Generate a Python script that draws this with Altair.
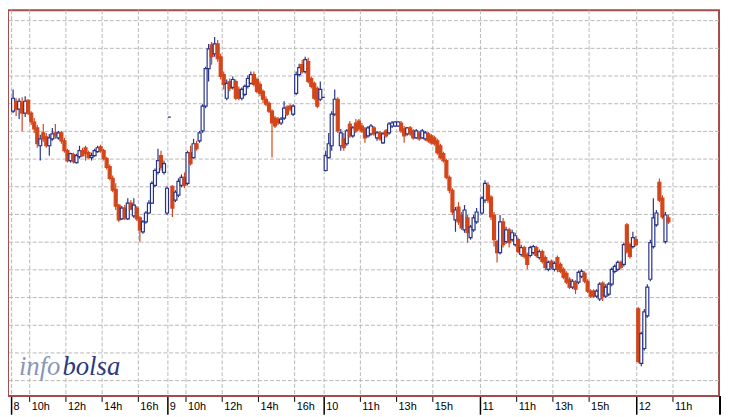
import altair as alt
import pandas as pd

# ---------------- data ----------------
# each candle: (open, high, low, close); 10-minute bars from 09:00
day_names = ["8", "9", "10", "11", "12"]

day8 = [
    (10.90, 11.12, 10.88, 11.03), (11.00, 11.03, 10.85, 10.92), (10.92, 11.03, 10.82, 11.00), (10.99, 11.04, 10.70, 10.88),
    (10.88, 11.05, 10.84, 11.00), (11.01, 11.02, 10.86, 10.88), (10.88, 10.90, 10.76, 10.79), (10.79, 10.83, 10.68, 10.72),
    (10.73, 10.76, 10.53, 10.57), (10.55, 10.66, 10.40, 10.62), (10.68, 10.77, 10.59, 10.62), (10.64, 10.68, 10.53, 10.55),
    (10.55, 10.67, 10.45, 10.63), (10.62, 10.73, 10.60, 10.67), (10.68, 10.77, 10.62, 10.65), (10.63, 10.70, 10.61, 10.68),
    (10.68, 10.70, 10.57, 10.60), (10.60, 10.63, 10.48, 10.50), (10.50, 10.52, 10.38, 10.40), (10.40, 10.48, 10.38, 10.47),
    (10.46, 10.48, 10.37, 10.39), (10.38, 10.47, 10.37, 10.45), (10.44, 10.55, 10.42, 10.50), (10.50, 10.53, 10.44, 10.45),
    (10.53, 10.55, 10.40, 10.47), (10.48, 10.50, 10.42, 10.43), (10.43, 10.48, 10.40, 10.45), (10.45, 10.52, 10.44, 10.50),
    (10.49, 10.55, 10.48, 10.53), (10.54, 10.56, 10.48, 10.50), (10.50, 10.52, 10.40, 10.42), (10.42, 10.44, 10.31, 10.33),
    (10.34, 10.36, 10.20, 10.22), (10.22, 10.25, 10.08, 10.10), (10.11, 10.17, 9.90, 9.94), (9.95, 9.96, 9.78, 9.80),
    (9.81, 9.94, 9.80, 9.92), (9.92, 9.95, 9.80, 9.82), (9.81, 10.02, 9.80, 9.97), (9.97, 10.00, 9.90, 9.91),
    (9.84, 10.02, 9.82, 9.95), (9.92, 9.94, 9.79, 9.81), (9.82, 9.84, 9.58, 9.70), (9.68, 9.80, 9.66, 9.78),
    (9.78, 9.89, 9.76, 9.87), (9.87, 10.00, 9.86, 9.97), (9.97, 10.19, 9.96, 10.17), (10.15, 10.32, 10.13, 10.30),
    (10.28, 10.52, 10.26, 10.40), (10.45, 10.50, 10.30, 10.33), (10.28, 10.40, 10.26, 10.37), (9.87, 10.14, 9.85, 10.12),
]

day9 = [
    (10.84, 10.84, 10.84, 10.84), (10.14, 10.15, 9.83, 9.92), (10.00, 10.10, 9.98, 10.08), (10.05, 10.22, 10.03, 10.19),
    (10.15, 10.26, 10.13, 10.23), (10.23, 10.28, 10.12, 10.15), (10.17, 10.50, 10.15, 10.48), (10.48, 10.55, 10.35, 10.37),
    (10.43, 10.62, 10.42, 10.57), (10.57, 10.60, 10.50, 10.52), (10.60, 10.70, 10.58, 10.68), (10.70, 10.97, 10.68, 10.95),
    (10.95, 11.35, 10.93, 11.33), (11.33, 11.58, 11.20, 11.53), (11.57, 11.60, 11.37, 11.45), (11.48, 11.65, 11.45, 11.58),
    (11.58, 11.62, 11.40, 11.43), (11.45, 11.48, 11.22, 11.25), (11.27, 11.30, 11.12, 11.17), (11.03, 11.22, 11.01, 11.18),
    (11.20, 11.23, 11.10, 11.13), (11.14, 11.25, 11.12, 11.22), (11.20, 11.22, 11.01, 11.03), (11.12, 11.15, 11.01, 11.03),
    (11.03, 11.14, 11.01, 11.12), (11.07, 11.17, 11.05, 11.15), (11.15, 11.26, 11.13, 11.23), (11.18, 11.30, 11.17, 11.27),
    (11.27, 11.30, 11.15, 11.17), (11.22, 11.24, 11.08, 11.10), (11.17, 11.20, 11.05, 11.08), (11.10, 11.12, 10.98, 11.02),
    (11.02, 11.05, 10.95, 10.97), (10.98, 11.00, 10.88, 10.90), (10.90, 10.92, 10.43, 10.78), (10.83, 10.85, 10.73, 10.75),
    (10.82, 10.84, 10.76, 10.78), (10.78, 10.84, 10.76, 10.82), (10.83, 11.00, 10.81, 10.93), (10.94, 10.96, 10.85, 10.87),
    (10.95, 10.97, 10.90, 10.92), (10.87, 10.97, 10.85, 10.95), (11.08, 11.30, 11.06, 11.27), (11.27, 11.38, 11.25, 11.34),
    (11.37, 11.42, 11.28, 11.30), (11.30, 11.45, 11.28, 11.42), (11.40, 11.44, 11.18, 11.20), (11.23, 11.25, 11.13, 11.15),
    (11.18, 11.20, 11.01, 11.03), (11.13, 11.15, 10.93, 10.95), (11.02, 11.20, 11.00, 11.12), (11.04, 11.04, 11.04, 11.04),
]

day10 = [
    (10.30, 10.50, 10.29, 10.45), (10.43, 10.68, 10.42, 10.57), (10.55, 10.90, 10.50, 10.87), (10.87, 11.12, 10.85, 11.02),
    (11.02, 11.04, 10.68, 10.70), (10.55, 10.72, 10.50, 10.68), (10.62, 10.68, 10.50, 10.53), (10.57, 10.72, 10.55, 10.70),
    (10.77, 10.80, 10.63, 10.65), (10.65, 10.75, 10.63, 10.73), (10.78, 10.82, 10.68, 10.70), (10.80, 10.82, 10.70, 10.72),
    (10.75, 10.78, 10.68, 10.70), (10.72, 10.74, 10.58, 10.63), (10.65, 10.75, 10.63, 10.73), (10.67, 10.77, 10.65, 10.75),
    (10.73, 10.75, 10.65, 10.67), (10.63, 10.70, 10.60, 10.68), (10.68, 10.70, 10.60, 10.62), (10.58, 10.69, 10.57, 10.67),
    (10.70, 10.72, 10.63, 10.65), (10.68, 10.79, 10.66, 10.77), (10.75, 10.80, 10.73, 10.78), (10.75, 10.80, 10.74, 10.79),
    (10.75, 10.80, 10.74, 10.79), (10.78, 10.80, 10.68, 10.70), (10.72, 10.75, 10.58, 10.65), (10.67, 10.74, 10.65, 10.73),
    (10.73, 10.75, 10.65, 10.67), (10.70, 10.72, 10.61, 10.63), (10.63, 10.72, 10.62, 10.70), (10.68, 10.70, 10.60, 10.62),
    (10.63, 10.72, 10.62, 10.70), (10.62, 10.70, 10.60, 10.68), (10.67, 10.69, 10.58, 10.60), (10.65, 10.67, 10.56, 10.58),
    (10.63, 10.65, 10.55, 10.57), (10.60, 10.62, 10.46, 10.48), (10.55, 10.57, 10.41, 10.43), (10.47, 10.49, 10.38, 10.40),
    (10.40, 10.42, 10.21, 10.23), (10.23, 10.25, 10.07, 10.10), (10.10, 10.12, 9.85, 9.88), (9.80, 9.93, 9.68, 9.90),
    (9.93, 9.98, 9.75, 9.78), (9.85, 9.88, 9.70, 9.72), (9.70, 9.95, 9.67, 9.90), (9.82, 9.85, 9.57, 9.67),
    (9.62, 9.75, 9.60, 9.73), (9.70, 9.85, 9.68, 9.82), (9.78, 9.92, 9.76, 9.88),
]

day11 = [
    (9.87, 10.04, 9.85, 10.02), (10.00, 10.20, 9.97, 10.17), (10.15, 10.18, 9.97, 10.00), (10.03, 10.05, 9.80, 9.83),
    (9.85, 9.88, 9.53, 9.60), (9.58, 9.60, 9.37, 9.47), (9.47, 9.85, 9.45, 9.78), (9.78, 9.82, 9.52, 9.55),
    (9.58, 9.73, 9.56, 9.70), (9.70, 9.72, 9.52, 9.57), (9.60, 9.70, 9.58, 9.67), (9.55, 9.67, 9.53, 9.64),
    (9.60, 9.62, 9.46, 9.48), (9.45, 9.55, 9.43, 9.52), (9.52, 9.54, 9.41, 9.43), (9.45, 9.47, 9.30, 9.35),
    (9.44, 9.54, 9.42, 9.52), (9.47, 9.55, 9.45, 9.53), (9.52, 9.54, 9.42, 9.44), (9.42, 9.50, 9.40, 9.48),
    (9.48, 9.50, 9.36, 9.38), (9.42, 9.44, 9.29, 9.32), (9.30, 9.39, 9.28, 9.37), (9.38, 9.40, 9.30, 9.32),
    (9.30, 9.38, 9.28, 9.36), (9.42, 9.44, 9.27, 9.30), (9.35, 9.37, 9.26, 9.28), (9.30, 9.32, 9.20, 9.22),
    (9.26, 9.28, 9.15, 9.17), (9.20, 9.22, 9.10, 9.12), (9.12, 9.20, 9.10, 9.18), (9.17, 9.19, 9.05, 9.10),
    (9.17, 9.29, 9.15, 9.27), (9.23, 9.30, 9.21, 9.28), (9.26, 9.28, 9.16, 9.18), (9.18, 9.20, 9.06, 9.08),
    (9.08, 9.10, 9.01, 9.03), (9.08, 9.10, 9.01, 9.03), (9.03, 9.10, 9.01, 9.08), (9.00, 9.17, 8.98, 9.15),
    (9.16, 9.18, 8.98, 9.03), (9.03, 9.15, 9.01, 9.12), (9.05, 9.17, 9.03, 9.15), (9.15, 9.32, 9.13, 9.30),
    (9.28, 9.35, 9.26, 9.33), (9.30, 9.39, 9.28, 9.37), (9.37, 9.39, 9.30, 9.32), (9.35, 9.57, 9.33, 9.55),
    (9.75, 9.77, 9.46, 9.48), (9.55, 9.57, 9.41, 9.43), (9.53, 9.68, 9.51, 9.62), (9.60, 9.64, 9.53, 9.55),
]

day12 = [
    (8.90, 8.92, 8.35, 8.37), (8.35, 8.67, 8.32, 8.65), (8.50, 8.90, 8.48, 8.87), (8.83, 9.15, 8.81, 9.12),
    (9.20, 9.60, 9.18, 9.57), (9.53, 10.02, 9.51, 9.82), (9.75, 9.90, 9.73, 9.87), (10.18, 10.22, 9.98, 10.00),
    (10.02, 10.05, 9.81, 9.83), (9.58, 9.88, 9.56, 9.85), (9.82, 9.85, 9.76, 9.78),
]

hour_labels = {
    "8": [10, 12, 14, 16],
    "9": [10, 12, 14, 16],
    "10": [11, 13, 15],
    "11": [11, 13, 15],
    "12": [11],
}
price_grid = [11.82, 11.54, 11.26, 10.98, 10.70, 10.42, 10.14, 9.86, 9.58, 9.30, 9.02, 8.74, 8.46, 8.18]

SESSION_H = 8.63   # axis length of one trading session, hours (overnight gaps removed)
BAR_MIN = 10       # candle interval, minutes
OPEN_H = 9

# ---------------- tables ----------------
rows = []
for d, candles in enumerate([day8, day9, day10, day11, day12]):
    for k, (o, h, l, c) in enumerate(candles):
        t = d * SESSION_H + (k * BAR_MIN + BAR_MIN / 2) / 60
        rows.append(dict(t=t, open=o, high=h, low=l, close=c,
                         dir="up" if c >= o else "down"))
df = pd.DataFrame(rows)

tick_rows = []
for d, name in enumerate(day_names):
    tick_rows.append(dict(t=d * SESSION_H, label=name, kind="day"))
    for hr in hour_labels[name]:
        tick_rows.append(dict(t=d * SESSION_H + (hr - OPEN_H), label=f"{hr}h", kind="hour"))
ticks = pd.DataFrame(tick_rows)
pgrid = pd.DataFrame({"p": price_grid})

BLUE = "#27338a"
ORANGE = "#d2461a"
GRID = "#b8b8b8"

W, H = 719, 390
xs = alt.Scale(domain=[0.075, 38.79], nice=False, zero=False)
ys = alt.Scale(domain=[8.02, 11.92], nice=False, zero=False)

hgrid = alt.Chart(pgrid).mark_rule(color=GRID, strokeWidth=1, strokeDash=[4, 2], yOffset=0.5).encode(
    y=alt.Y("p:Q", scale=ys, axis=None))
vgrid = alt.Chart(ticks).mark_rule(color=GRID, strokeWidth=1, strokeDash=[4, 2]).encode(
    x=alt.X("t:Q", scale=xs, axis=None))

stroke_scale = alt.Scale(domain=["up", "down"], range=[BLUE, ORANGE])

wicks = alt.Chart(df).mark_rule(strokeWidth=1.2).encode(
    x=alt.X("t:Q", scale=xs, axis=None),
    y=alt.Y("low:Q", scale=ys, axis=None),
    y2="high:Q",
    stroke=alt.Stroke("dir:N", scale=stroke_scale, legend=None),
)

bodies = alt.Chart(df).mark_bar(size=3, strokeWidth=1.2).encode(
    x=alt.X("t:Q", scale=xs, axis=None),
    y=alt.Y("open:Q", scale=ys, axis=None),
    y2="close:Q",
    stroke=alt.Stroke("dir:N", scale=stroke_scale, legend=None),
    fill=alt.Fill("dir:N", scale=alt.Scale(domain=["up", "down"], range=["#ffffff", ORANGE]), legend=None),
)

day_ticks = alt.Chart(ticks).transform_filter("datum.kind == 'day'").mark_rule(
    color="black", strokeWidth=1.5).encode(
    x=alt.X("t:Q", scale=xs, axis=None), y=alt.value(H + 1), y2=alt.value(H + 19))

hour_ticks = alt.Chart(ticks).transform_filter("datum.kind == 'hour'").mark_rule(
    color="black", strokeWidth=1).encode(
    x=alt.X("t:Q", scale=xs, axis=None), y=alt.value(H + 1), y2=alt.value(H + 6))

tick_text = alt.Chart(ticks).mark_text(
    align="left", baseline="alphabetic", dx=2, fontSize=11, font="Liberation Sans", color="black").encode(
    x=alt.X("t:Q", scale=xs, axis=None), y=alt.value(H + 14), text="label:N")

right_bar = alt.Chart(pd.DataFrame({"v": [0]})).mark_rule(color="black", strokeWidth=2).encode(
    x=alt.value(W + 1), y=alt.value(H), y2=alt.value(H + 19))

wm_info = alt.Chart(pd.DataFrame({"w": ["info"]})).mark_text(
    align="left", baseline="alphabetic", font="Liberation Serif", fontStyle="italic",
    fontSize=27, color="#8c95b9").encode(x=alt.value(11), y=alt.value(369), text="w:N")
wm_bolsa = alt.Chart(pd.DataFrame({"w": ["bolsa"]})).mark_text(
    align="left", baseline="alphabetic", font="Liberation Serif", fontStyle="italic",
    fontSize=27, color="#2c3a7e").encode(x=alt.value(55), y=alt.value(369), text="w:N")

chart = alt.layer(
    hgrid, vgrid, wicks, bodies, day_ticks, hour_ticks, tick_text, right_bar, wm_info, wm_bolsa
).properties(
    width=W, height=H,
    autosize=alt.AutoSizeParams(type="none"),
    padding={"left": 0, "top": 0, "right": 2, "bottom": 19},
    background="white",
).configure_view(
    stroke="#a44c4c", strokeWidth=2
)

chart.save("out.html", embed_options={"renderer": "svg", "actions": False})
